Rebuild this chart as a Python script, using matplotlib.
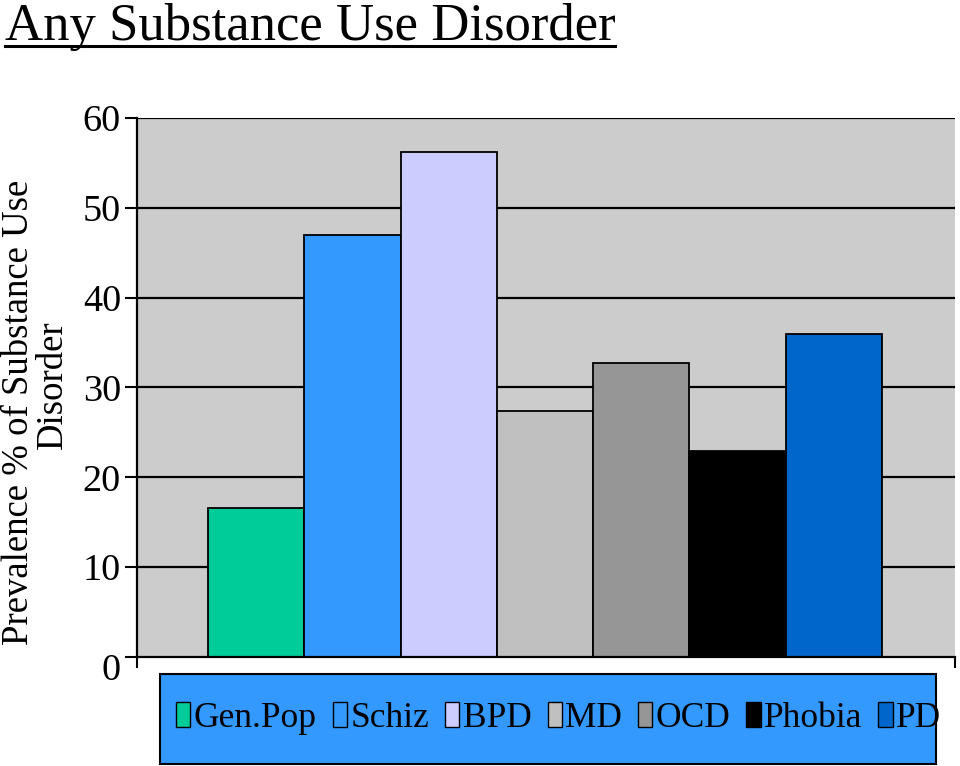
import matplotlib.pyplot as plt
from matplotlib.patches import Rectangle, Patch
from matplotlib.lines import Line2D
from matplotlib.transforms import offset_copy

plt.rcParams['font.family'] = ['Liberation Serif', 'DejaVu Serif']

groups = ['Gen.Pop', 'Schiz', 'BPD', 'MD', 'OCD', 'Phobia', 'PD']
prevalence = [16.6, 47.0, 56.2, 27.4, 32.7, 22.9, 36.0]
colors = ['#00CC99', '#3399FF', '#CCCCFF', '#C0C0C0', '#969696', '#000000', '#0066CC']
yticks = [0, 10, 20, 30, 40, 50, 60]

fig = plt.figure(figsize=(9.6, 7.66), dpi=100)
ax = fig.add_axes([0.1427, 0.1423, 0.8521, 0.7037])
ax.set_facecolor('#CCCCCC')

for y in yticks[1:]:
    ax.axhline(y, color='black', lw=1.6, zorder=1)

xs = list(range(len(groups)))
ax.bar(xs, prevalence, width=1.0, color=colors, edgecolor='black', linewidth=1.3, zorder=2)

ax.set_xlim(-1.237, 7.258)
ax.set_ylim(0, 60)
ax.set_yticks(yticks)
ax.set_yticklabels([str(v) for v in yticks], fontsize=27.5)
ax.set_xticks([-1.237, 7.258])
ax.set_xticklabels(['', ''])
ax.tick_params(axis='y', length=9, width=1.5, pad=2.5)
ax.tick_params(axis='x', length=8, width=1.5)
for s in ['top', 'right']:
    ax.spines[s].set_visible(False)
for s in ['left', 'bottom']:
    ax.spines[s].set_linewidth(1.6)

# the "0" label sits a bit below its tick
lab0 = ax.get_yticklabels()[0]
lab0.set_transform(offset_copy(lab0.get_transform(), fig=fig, x=0, y=-10, units='dots'))

# y label as two separately centred lines
fig.text(19 / 960, 1 - 412 / 766, 'Prevalence % of Substance Use', rotation=90,
         fontsize=26.5, ha='center', va='center')
fig.text(53 / 960, 1 - 385 / 766, 'Disorder', rotation=90,
         fontsize=26.5, ha='center', va='center')

# title with underline
title = fig.text(0.005, 1 - 40 / 766, 'Any Substance Use Disorder', fontsize=38, va='baseline', ha='left')
fig.canvas.draw()
bb = title.get_window_extent().transformed(fig.transFigure.inverted())
fig.add_artist(Line2D([bb.x0, bb.x1], [1 - 46 / 766, 1 - 46 / 766], color='black', lw=2.2))

# legend box
fig.add_artist(Rectangle((0.1667, 0.003), 0.808, 0.117, transform=fig.transFigure,
                         facecolor='#3399FF', edgecolor='black', lw=1.5))
handles = [Patch(facecolor=c, edgecolor='black', lw=1.0) for c in colors]
fig.legend(handles, groups, loc='center', bbox_to_anchor=(0.582, 0.062), ncol=7, frameon=False,
           fontsize=25.5, handlelength=0.4, handleheight=0.7, handletextpad=0.1,
           columnspacing=0.45, borderpad=0)

fig.savefig('out.png', dpi=100)
